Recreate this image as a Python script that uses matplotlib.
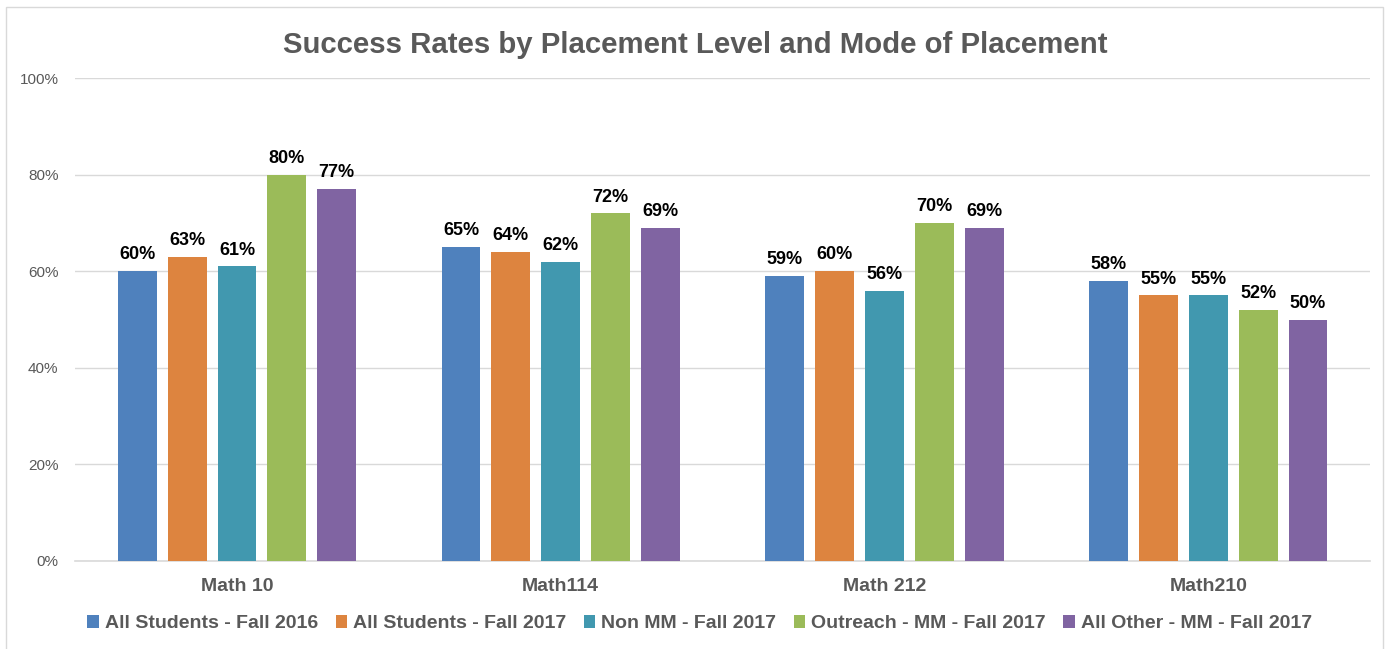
import matplotlib.pyplot as plt
import numpy as np
from matplotlib.patches import Rectangle

plt.rcParams['font.family'] = ['Liberation Sans', 'DejaVu Sans']

courses = ['Math 10', 'Math114', 'Math 212', 'Math210']
series = ['All Students - Fall 2016', 'All Students - Fall 2017', 'Non MM - Fall 2017',
          'Outreach - MM - Fall 2017', 'All Other - MM - Fall 2017']
all_2016 = [60, 65, 59, 58]
all_2017 = [63, 64, 60, 55]
non_mm_2017 = [61, 62, 56, 55]
outreach_mm_2017 = [80, 72, 70, 52]
other_mm_2017 = [77, 69, 69, 50]
values = [all_2016, all_2017, non_mm_2017, outreach_mm_2017, other_mm_2017]
colors = ['#4F81BD', '#DD843F', '#4198AF', '#9BBB59', '#8064A2']

fig = plt.figure(figsize=(13.91, 6.49), dpi=100)
ax = fig.add_axes([0.054, 0.1356, 0.931, 0.7442])

x = np.arange(len(courses))
step = 0.154
width = 0.12
for i, (vals, name, c) in enumerate(zip(values, series, colors)):
    pos = x + (i - 2) * step
    bars = ax.bar(pos, vals, width, color=c, label=name, zorder=3)
    for b, v in zip(bars, vals):
        ax.text(b.get_x() + b.get_width() / 2, v + 1.6, f'{v}%', ha='center', va='bottom',
                fontsize=13, fontweight='bold', color='black')

ax.set_xlim(-0.5, 3.5)
ax.set_ylim(0, 100)
ax.set_yticks(range(0, 101, 20))
ax.set_yticklabels([f'{t}%' for t in range(0, 101, 20)])
ax.set_xticks(x)
ax.set_xticklabels(courses, fontsize=14, fontweight='bold', color='#595959')
ax.tick_params(axis='y', labelsize=11, labelcolor='#595959', length=0, pad=12)
ax.tick_params(axis='x', length=0, pad=12)
ax.grid(axis='y', color='#D9D9D9', linewidth=1, zorder=0)
for s in ['top', 'right', 'left']:
    ax.spines[s].set_visible(False)
ax.spines['bottom'].set_color('#D9D9D9')
ax.spines['bottom'].set_linewidth(1.2)

fig.suptitle('Success Rates by Placement Level and Mode of Placement', x=0.5, y=0.952,
             fontsize=21.2, fontweight='bold', color='#595959')

leg = fig.legend(loc='center', bbox_to_anchor=(0.503, 0.039), ncol=5, frameon=False,
                 handlelength=0.6, handleheight=0.6, handletextpad=0.3, columnspacing=0.9,
                 prop={'size': 14, 'weight': 'bold'})
for t in leg.get_texts():
    t.set_color('#595959')

fig.patches.append(Rectangle((6 / 1391, -0.05), 1377 / 1391, 1.05 - 7 / 649,
                             transform=fig.transFigure, fill=False, edgecolor='#D9D9D9',
                             linewidth=1))

fig.savefig('out.png', dpi=100)
